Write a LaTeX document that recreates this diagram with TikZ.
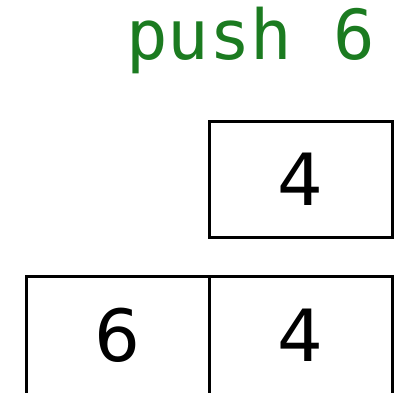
\documentclass[tikz,border=0pt]{standalone}
\usepackage{fontspec}
\setmainfont{DejaVu Sans}
\newfontfamily\opfont{DejaVu Sans Mono}
\usetikzlibrary{positioning}
\definecolor{opGreen}{HTML}{1B7B20}

\begin{document}
\begin{tikzpicture}[x=1pt, y=1pt,
    cell/.style={draw, line width=3pt, outer sep=0pt, inner sep=0pt,
      minimum width=183pt, minimum height=116pt,
      font=\fontsize{72}{72}\selectfont}]
  \useasboundingbox (0,0) rectangle (394,392);
  % stack after the push
  \node[cell, minimum height=118pt] (six) at (117.5,57) {6};
  \node[cell, minimum height=118pt, right=0pt of six] (four) {4};
  % stack before the push
  \node[cell, above=39pt of four] (old) {4};
  \node[font=\opfont\fontsize{69}{69}\selectfont, text=opGreen,
        anchor=base west, inner sep=0pt] (op) at (126,332) {push 6};
\end{tikzpicture}
\end{document}
